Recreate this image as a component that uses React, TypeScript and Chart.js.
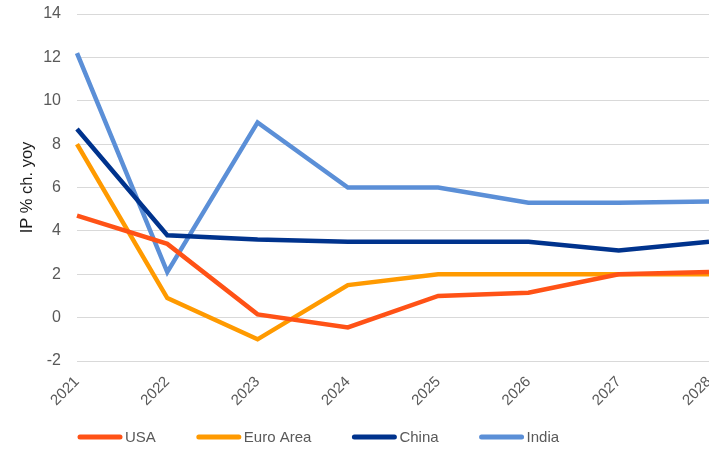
import React, { useEffect, useRef } from "react";
import { Chart, registerables } from "chart.js";

Chart.register(...registerables);

const years = ["2021", "2022", "2023", "2024", "2025", "2026", "2027", "2028"];
const usa = [4.7, 3.4, 0.15, -0.45, 1.0, 1.15, 2.0, 2.1];
const euroArea = [8.0, 0.9, -1.0, 1.5, 2.0, 2.0, 2.0, 2.0];
const china = [8.7, 3.8, 3.6, 3.5, 3.5, 3.5, 3.1, 3.5];
const india = [12.2, 2.1, 9.0, 6.0, 6.0, 5.3, 5.3, 5.35];

const seriesNames = ["USA", "Euro Area", "China", "India"];
const seriesColors = ["#FF5216", "#FF9A00", "#00338D", "#5B8FD7"];

const FONT = "'Liberation Sans', Arial, sans-serif";

const legendPlugin = {
  id: "bottomLegend",
  afterDraw(chart: any) {
    const ctx = chart.ctx;
    ctx.save();
    ctx.font = `15px ${FONT}`;
    ctx.textBaseline = "middle";
    ctx.textAlign = "left";
    let x = 80;
    const y = 437;
    chart.data.datasets.forEach((ds: any) => {
      ctx.strokeStyle = ds.borderColor;
      ctx.lineWidth = 5;
      ctx.lineCap = "round";
      ctx.beginPath();
      ctx.moveTo(x, y);
      ctx.lineTo(x + 40, y);
      ctx.stroke();
      ctx.fillStyle = "#595959";
      ctx.fillText(ds.label, x + 45, y + 1);
      x += 45 + ctx.measureText(ds.label).width + 43;
    });
    ctx.restore();
  },
};

export default function App() {
  const ref = useRef<HTMLCanvasElement | null>(null);
  useEffect(() => {
    if (!ref.current) return;
    const data = [usa, euroArea, china, india];
    const chart = new Chart(ref.current, {
      type: "line",
      data: {
        labels: years,
        datasets: data.map((d, i) => ({
          label: seriesNames[i],
          data: d,
          borderColor: seriesColors[i],
          backgroundColor: seriesColors[i],
          borderWidth: 4.5,
          pointRadius: 0,
          tension: 0,
          fill: false,
        })),
      },
      options: {
        animation: false,
        responsive: false,
        layout: { padding: { top: 14, right: 21, left: 0, bottom: 0 } },
        plugins: {
          legend: { display: false },
          tooltip: { enabled: false },
        },
        scales: {
          x: {
            type: "category",
            offset: false,
            grid: { display: false, drawTicks: false },
            border: { display: false },
            ticks: {
              color: "#595959",
              font: { family: FONT, size: 15 },
              minRotation: 45,
              maxRotation: 45,
              padding: 12,
            },
            afterFit: (s: any) => {
              s.height = 89;
              s.paddingLeft = 0;
              s.paddingRight = 0;
            },
          },
          y: {
            min: -2,
            max: 14,
            grid: { color: "#d9d9d9", lineWidth: 1, drawTicks: false },
            border: { display: false },
            ticks: {
              stepSize: 2,
              color: "#595959",
              font: { family: FONT, size: 16 },
              padding: 16,
            },
            title: {
              display: true,
              text: "IP % ch. yoy",
              color: "#1a1a1a",
              font: { family: FONT, size: 16.5 },
              padding: { top: 18, bottom: 0 },
            },
            afterFit: (s: any) => {
              s.width = 77;
              s.paddingTop = 0;
              s.paddingBottom = 0;
            },
          },
        },
      },
      plugins: [legendPlugin],
    });
    return () => chart.destroy();
  }, []);
  return (
    <div
      style={{
        position: "fixed",
        left: 0,
        top: 0,
        width: 709,
        height: 450,
        overflow: "hidden",
        background: "#fff",
      }}
    >
      <canvas ref={ref} width={730} height={450} style={{ display: "block" }} />
    </div>
  );
}
